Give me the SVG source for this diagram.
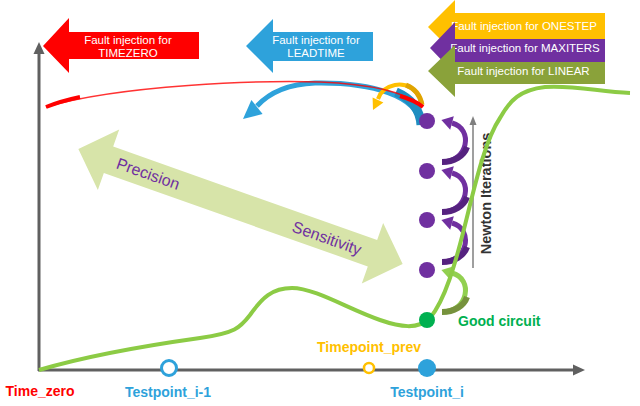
<svg xmlns="http://www.w3.org/2000/svg" width="640" height="406" viewBox="0 0 640 406">
<style>
text{font-family:"Liberation Sans",Arial,sans-serif}
.bt{font-size:11.5px;fill:#ffffff;text-anchor:middle}
.lbl{font-size:14px;font-weight:bold;text-anchor:middle}
.ax{stroke:#606060;stroke-width:3;fill:none}
.pd{fill:#7030A0}
</style>
<defs>
<g id="arcP">
<path d="M0,41 C26,41 32,8 10,2" fill="none" stroke="#7030A0" stroke-width="5"/>
<path d="M0,41 C12,41 22,35 25,26" fill="none" stroke="#55227F" stroke-width="6"/>
<polygon points="-0.6,-0.9 11.8,-4.8 8.2,8.8" fill="#7030A0"/>
</g>
<g id="arcG">
<path d="M0,41 C26,41 32,8 10,2" fill="none" stroke="#92D050" stroke-width="5"/>
<path d="M0,41 C12,41 22,35 25,26" fill="none" stroke="#76923C" stroke-width="6"/>
<polygon points="-0.6,-0.9 11.8,-4.8 8.2,8.8" fill="#92D050"/>
</g>
</defs>
<rect width="640" height="406" fill="#ffffff"/>

<g id="fault-timezero">
<polygon points="43,46 69,18 69,32 199,32 199,59 69,59 69,73" fill="#FF0000"/>
<text class="bt" x="128" y="43.5">Fault injection for</text>
<text class="bt" x="128" y="57">TIMEZERO</text>
</g>
<g id="fault-leadtime">
<polygon points="246,46 273,19 273,32 373,32 373,61 273,61 273,73" fill="#2EA2DB"/>
<text class="bt" x="316" y="43.5">Fault injection for</text>
<text class="bt" x="316" y="57">LEADTIME</text>
</g>
<g id="fault-onestep">
<polygon points="428,27 455,0 455,13 605,13 605,39 455,39 455,54" fill="#FFC000"/>
<text class="bt" x="524" y="30">Fault injection for ONESTEP</text>
</g>
<g id="fault-maxiters">
<polygon points="430,48 455,22 455,39 605,39 605,62 455,62 455,74" fill="#7030A0"/>
<text class="bt" x="525" y="52">Fault injection for MAXITERS</text>
</g>
<g id="fault-linear">
<polygon points="428,71 455,45 455,62 605,62 605,84 455,84 455,97" fill="#8AA23A"/>
<text class="bt" x="523.5" y="75">Fault injection for LINEAR</text>
</g>

<g id="tradeoff">
<g transform="translate(240.5,206.5) rotate(19.49)">
<polygon points="-172,0 -140,-32 -140,-14 140,-14 140,-32 172,0 140,32 140,14 -140,14 -140,32" fill="#D7E4A9"/>
<text x="-98" y="5.5" font-size="16" fill="#7030A0" text-anchor="middle">Precision</text>
<text x="92" y="6.5" font-size="16" fill="#7030A0" text-anchor="middle">Sensitivity</text>
</g>
</g>

<g id="axes">
<path class="ax" d="M39,371 V52"/>
<polygon points="39,42 33.5,54 44.5,54" fill="#606060"/>
<path class="ax" d="M38,370 H574"/>
<polygon points="585,370 573,364.5 573,375.5" fill="#606060"/>
</g>

<g id="newton-axis">
<path d="M473,268 V124" stroke="#7F7F7F" stroke-width="1.5" fill="none"/>
<polygon points="473,116 469.5,125 476.5,125" fill="#7F7F7F"/>
<text transform="translate(490.5,193.5) rotate(-90)" font-size="14.5" font-weight="bold" fill="#333333" text-anchor="middle">Newton Iterations</text>
</g>

<g id="connectors">
<path d="M420,124 C418,96 372,82 315,83 C290,84 270,92 257,106" fill="none" stroke="#2EA2DB" stroke-width="5"/>
<path d="M421,125 C420,108 410,98 396,92" fill="none" stroke="#1F8DC0" stroke-width="9"/>
<polygon points="243,119 251.4,99.9 262.6,114.1" fill="#2EA2DB"/>
<path d="M422,104 C418,88 405,83 395,85 C385,87 380,93 378,99" fill="none" stroke="#FFC000" stroke-width="4"/>
<path d="M422,105 C420,94 414,88 406,85" fill="none" stroke="#E0A400" stroke-width="5"/>
<polygon points="373,110 372.6,97.6 383.4,102.4" fill="#FFC000"/>
<path d="M46,107 C120,85 260,80 320,82 C370,84 405,92 423,106" fill="none" stroke="#FF0000" stroke-width="1.5" stroke-opacity="0.8"/>
<path d="M46,107 C56,103 66,100 80,97" fill="none" stroke="#FF0000" stroke-width="4"/>
<path d="M400,96 C410,99 417,102 423,107" fill="none" stroke="#FF0000" stroke-width="4"/>
<use href="#arcP" x="442" y="121"/>
<use href="#arcP" x="442" y="171"/>
<use href="#arcP" x="442" y="221"/>
<use href="#arcG" x="442" y="271"/>
<path d="M39,370 C90,355 150,345 200,338 C235,333 240,328 250,315 C262,298 272,288 292,288 C315,288 350,310 380,320 C400,327 418,330 430,318 C445,300 455,265 465,225 C475,185 485,140 500,118 C510,100 520,90 545,87 C575,85 600,92 630,93" fill="none" stroke="#8CCB45" stroke-width="4"/>
</g>

<g id="iterations">
<circle class="pd" cx="427" cy="121" r="8"/>
<circle class="pd" cx="427" cy="171" r="8"/>
<circle class="pd" cx="427" cy="220" r="8"/>
<circle class="pd" cx="427" cy="270" r="8"/>
</g>
<g id="good-circuit">
<circle cx="427" cy="320" r="8" fill="#00B050"/>
<text class="lbl" x="458" y="326" font-size="15" fill="#00B050" style="text-anchor:start">Good circuit</text>
</g>

<g id="time-zero">
<text class="lbl" x="40" y="396" fill="#FF0000">Time_zero</text>
</g>
<g id="testpoint-prev">
<circle cx="169" cy="368" r="7.5" fill="#ffffff" stroke="#2EA2DB" stroke-width="3"/>
<text class="lbl" x="168" y="397" fill="#2EA2DB">Testpoint_i-1</text>
</g>
<g id="timepoint-prev">
<circle cx="369" cy="368" r="5" fill="#ffffff" stroke="#FFC000" stroke-width="2.5"/>
<text class="lbl" x="369" y="352" fill="#FFC000">Timepoint_prev</text>
</g>
<g id="testpoint-i">
<circle cx="427" cy="368" r="9" fill="#2EA2DB"/>
<text class="lbl" x="427" y="397" fill="#2EA2DB">Testpoint_i</text>
</g>
</svg>
